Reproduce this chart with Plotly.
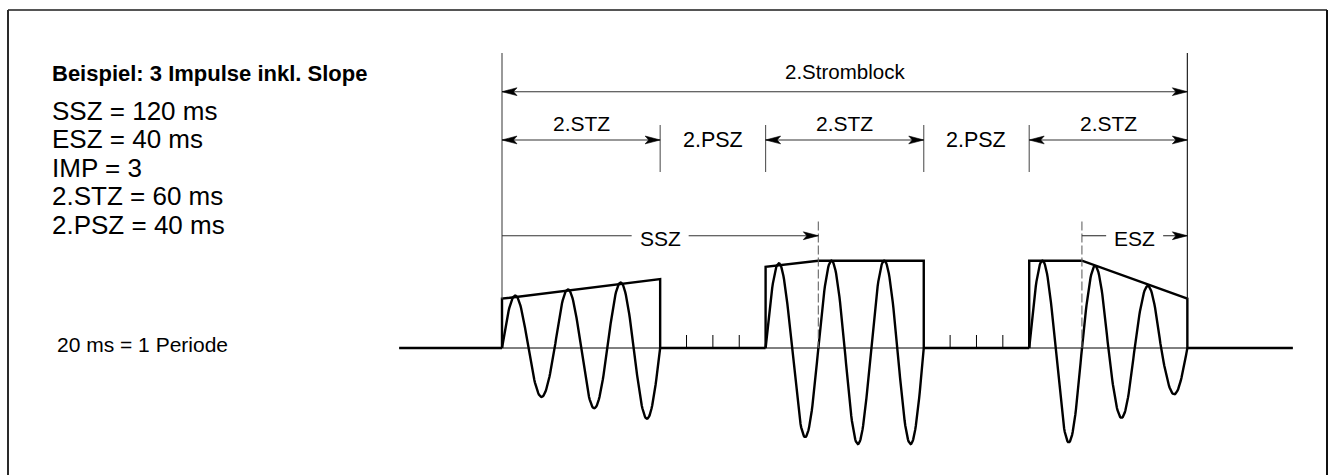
import numpy as np
import plotly.graph_objects as go

# ---------------- data (time in ms, amplitude: 1.0 = full current) ----------------
period_ms = 20
stz_starts = [0, 100, 200]          # 2.STZ start times
stz_ends = [60, 160, 260]           # 2.STZ end times
psz_centers = [80, 180]             # 2.PSZ label positions
pause_ticks = [70, 80, 90, 170, 180, 190]
ssz_range = [0, 120]
esz_range = [220, 260]
baseline_range = [-39, 300]

# half-cycle peak amplitudes
half_peaks = [
    [0.60, -0.56, 0.67, -0.69, 0.75, -0.81],
    [0.97, -1.02, 1.00, -1.10, 1.00, -1.10],
    [1.00, -1.08, 0.94, -0.80, 0.71, -0.53],
]
# envelope outline of each pulse
env_t = [[0, 0, 60, 60], [100, 100, 120, 160, 160], [200, 200, 220, 260, 260]]
env_y = [[0, 0.565, 0.79, 0], [0, 0.93, 1.0, 1.0, 0], [0, 1.0, 1.0, 0.565, 0]]

title = "Beispiel: 3 Impulse inkl. Slope"
params = ["SSZ = 120 ms", "ESZ = 40 ms", "IMP = 3", "2.STZ = 60 ms", "2.PSZ = 40 ms"]
period_note = "20 ms = 1 Periode"
block_label = "2.Stromblock"
stz_label = "2.STZ"
psz_label = "2.PSZ"

# ---------------- layout constants ----------------
W, H = 1328, 475
PX_MS = 2.636           # px per ms
X0_PX = 502             # px of t = 0
PX_U = 87.3             # px per amplitude unit
Y0_PX = 348             # px of baseline
xr = [-X0_PX / PX_MS, (W - X0_PX) / PX_MS]
yr = [-(H - Y0_PX) / PX_U, Y0_PX / PX_U]

FONT = "Liberation Sans, Arial, Helvetica, sans-serif"
DIM = "#333333"
EXT = "#555555"

# dimension row levels (amplitude units)
y_ext_top = 3.38
y_block = 2.936
y_block_lbl = 3.165
y_stz = 2.383
y_stz_lbl = 2.57
y_short_top, y_short_bot = 2.554, 2.016
y_ss = 1.286
y_dash_top = 1.45

fig = go.Figure()

def line(xs, ys, color="black", width=1.0, dash=None):
    fig.add_trace(go.Scatter(x=xs, y=ys, mode="lines", hoverinfo="skip",
                             line=dict(color=color, width=width, dash=dash),
                             showlegend=False))

# thin baseline through everything
line(baseline_range, [0, 0], "black", 1.0)
# thick baseline outside pulses
bx, by = [], []
gaps = [baseline_range[0]] + [v for pair in zip(stz_starts, stz_ends) for v in pair] + [baseline_range[1]]
for i in range(0, len(gaps), 2):
    bx += [gaps[i], gaps[i + 1], None]
    by += [0, 0, None]
line(bx, by, "black", 2.6)

# pause ticks
tx, ty = [], []
for t in pause_ticks:
    tx += [t, t, None]
    ty += [0, 13 / PX_U, None]
line(tx, ty, "black", 1.0)

# waveform
wx, wy = [], []
for t0, peaks in zip(stz_starts, half_peaks):
    for k, p in enumerate(peaks):
        half = period_ms / 2
        tt = np.linspace(0, half, 41)
        wx += list(t0 + k * half + tt)
        wy += list(p * np.sin(np.pi * tt / half))
    wx.append(None)
    wy.append(None)
line(wx, wy, "black", 2.4)

# envelopes
for et, ey in zip(env_t, env_y):
    line(et, ey, "black", 2.4)

# extension lines (long) at start / end of the block
line([stz_starts[0], stz_starts[0]], [y_ext_top, env_y[0][1]], EXT, 1.2)
line([stz_ends[-1], stz_ends[-1]], [y_ext_top, env_y[-1][-2]], "#222222", 1.2)
# short extension lines
sx, sy = [], []
for t in stz_ends[:-1] + stz_starts[1:]:
    sx += [t, t, None]
    sy += [y_short_top, y_short_bot, None]
line(sx, sy, EXT, 1.1)

# dashed lines at SSZ end / ESZ start
line([ssz_range[1], ssz_range[1]], [y_dash_top, 0], "#666666", 1.1, "9px,3px")
line([esz_range[0], esz_range[0]], [y_dash_top, 0], "#666666", 1.1, "9px,3px")

# dimension lines
dx, dy = [], []
dx += [0, stz_ends[-1], None]; dy += [y_block, y_block, None]
for a, b in zip(stz_starts, stz_ends):
    dx += [a, b, None]; dy += [y_stz, y_stz, None]
GAP = 28.5 / PX_MS
for a, b in (ssz_range, esz_range):
    c = (a + b) / 2
    dx += [a, c - GAP, None, c + GAP, b, None]
    dy += [y_ss, y_ss, None, y_ss, y_ss, None]
line(dx, dy, DIM, 1.1)

# arrowheads (filled, barbed)
ax_, ay_ = [], []
def arrow(t, y, d):
    L, Wd, N = 15 / PX_MS, 3.9 / PX_U, 11.5 / PX_MS
    ax_.extend([t, t - d * L, t - d * N, t - d * L, t, None])
    ay_.extend([y, y + Wd, y, y - Wd, y, None])

arrow(0, y_block, -1); arrow(stz_ends[-1], y_block, 1)
for a, b in zip(stz_starts, stz_ends):
    arrow(a, y_stz, -1); arrow(b, y_stz, 1)
arrow(ssz_range[1], y_ss, 1)
arrow(esz_range[1], y_ss, 1)
fig.add_trace(go.Scatter(x=ax_, y=ay_, mode="lines", fill="toself", fillcolor="black",
                         line=dict(color="black", width=0.6), hoverinfo="skip", showlegend=False))

# ---------------- labels ----------------
def label(x, y, text, size=21, **kw):
    fig.add_annotation(x=x, y=y, text=text, showarrow=False,
                       font=dict(family=FONT, size=size, color="black"),
                       xanchor="center", yanchor="middle", **kw)

label(stz_ends[-1] / 2, y_block_lbl, block_label, 20.5)
for a, b in zip(stz_starts, stz_ends):
    label((a + b) / 2, y_stz_lbl, stz_label, 21)
for c in psz_centers:
    label(c, y_stz + 0.0, psz_label, 21.5)
label(sum(ssz_range) / 2, y_ss - 0.03, "SSZ", 21)
label(sum(esz_range) / 2, y_ss - 0.03, "ESZ", 21)

# left text block (paper coordinates)
def ptext(xpx, ypx, text, size, bold=False):
    fig.add_annotation(x=xpx / W, y=1 - ypx / H, xref="paper", yref="paper",
                       text=f"<b>{text}</b>" if bold else text, showarrow=False,
                       font=dict(family=FONT, size=size, color="black"),
                       xanchor="left", yanchor="middle")

ptext(50, 74, title, 22, bold=True)
for i, p in enumerate(params):
    ptext(50, 111 + i * 28.4, p, 26)
ptext(55, 344, period_note, 21)

# frame
fig.add_shape(type="line", xref="paper", yref="paper", x0=8 / W, x1=1327 / W,
              y0=1 - 10 / H, y1=1 - 10 / H, line=dict(color="#555555", width=2))
fig.add_shape(type="line", xref="paper", yref="paper", x0=8 / W, x1=8 / W,
              y0=1 - 10 / H, y1=-0.05, line=dict(color="#2a2a2a", width=2))
fig.add_shape(type="line", xref="paper", yref="paper", x0=1327 / W, x1=1327 / W,
              y0=1 - 10 / H, y1=-0.05, line=dict(color="#111111", width=2))

fig.update_xaxes(range=xr, visible=False, fixedrange=True)
fig.update_yaxes(range=yr, visible=False, fixedrange=True)
fig.update_layout(width=W, height=H, margin=dict(l=0, r=0, t=0, b=0),
                  plot_bgcolor="white", paper_bgcolor="white", showlegend=False)

fig.write_html("out.html", config={"displayModeBar": False, "staticPlot": True},
               post_script="document.body.style.margin='0';")
